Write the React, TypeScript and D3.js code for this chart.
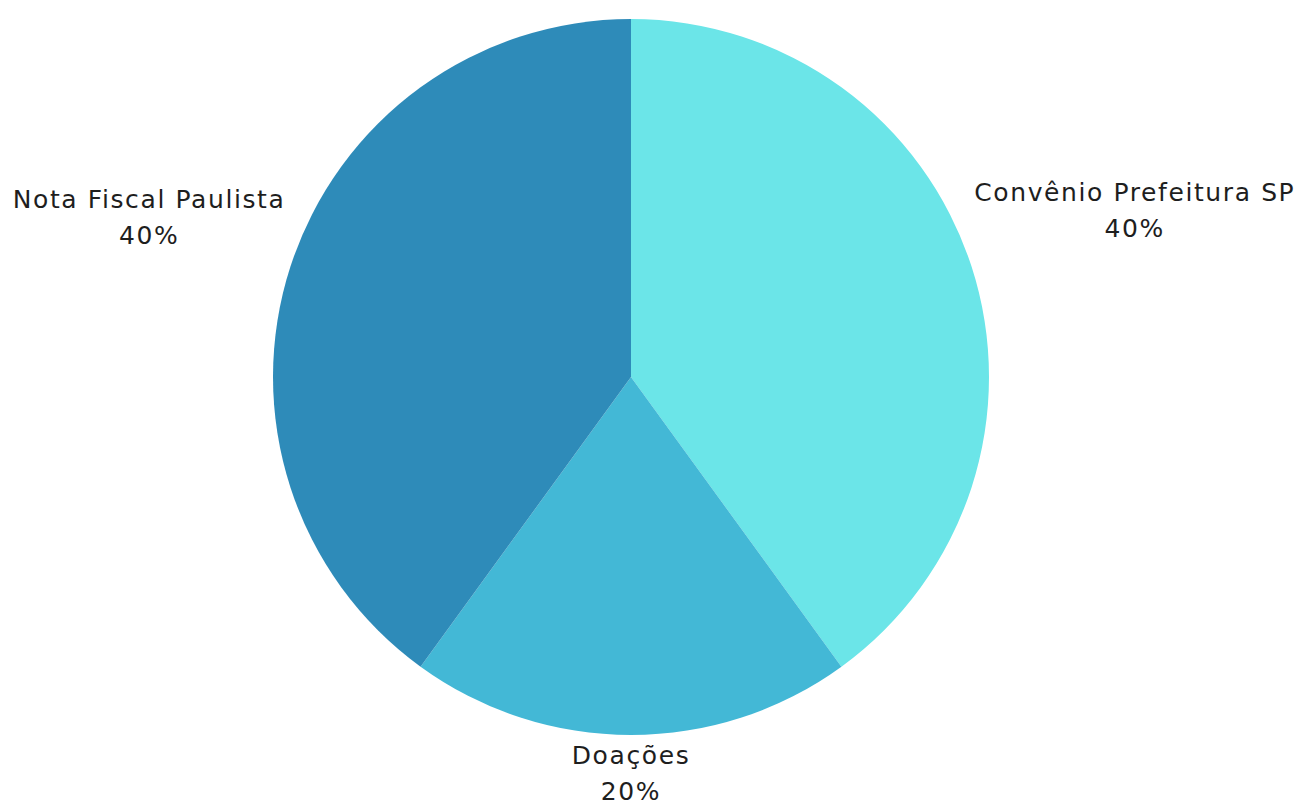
import React, { useEffect, useRef } from "react";
import * as d3 from "d3";

const labels = ["Convênio Prefeitura SP", "Doações", "Nota Fiscal Paulista"];
const values = [40, 20, 40];
const colors = ["#6be5e8", "#43b8d6", "#2e8bb9"];

const W = 1300;
const H = 804;

export default function App() {
  const ref = useRef<SVGSVGElement | null>(null);

  useEffect(() => {
    const svg = d3.select(ref.current);
    svg.selectAll("*").remove();
    const cx = 631;
    const cy = 377;
    const R = 358;
    const data = labels.map((l, i) => ({ label: l, value: values[i], color: colors[i] }));
    const pie = d3.pie<any>().value((d) => d.value).sort(null);
    const arcs = pie(data);
    const arc = d3.arc<any>().innerRadius(0).outerRadius(R);
    const g = svg.append("g").attr("transform", `translate(${cx},${cy})`);
    g.selectAll("path")
      .data(arcs)
      .enter()
      .append("path")
      .attr("d", arc as any)
      .attr("fill", (d: any) => d.data.color);

    const total = d3.sum(values);
    const lineH = 36;
    const fs = 25;
    arcs.forEach((a: any) => {
      const mid = (a.startAngle + a.endAngle) / 2;
      const sx = Math.sin(mid);
      const sy = -Math.cos(mid);
      const t = g
        .append("text")
        .attr("font-family", "'DejaVu Sans', sans-serif")
        .attr("font-size", fs)
        .attr("letter-spacing", 1.6)
        .attr("fill", "#1e1e1e")
        .attr("text-anchor", "middle");
      t.append("tspan").attr("x", 0).attr("dy", 0).text(a.data.label);
      t.append("tspan")
        .attr("x", 0)
        .attr("dy", lineH)
        .text(`${Math.round((a.data.value / total) * 100)}%`);
      const bb = (t.node() as SVGTextElement).getBBox();
      const w = bb.width / 2;
      const h = bb.height / 2;
      const r = R + 9 + w * Math.abs(sx) + h * Math.abs(sy);
      const px = sx * r;
      const py = sy * r;
      const ox = px - (bb.x + w);
      const oy = py - (bb.y + h) - 3;
      t.attr("transform", `translate(${ox},${oy})`);
    });
  }, []);

  return <svg ref={ref} width={W} height={H} style={{ display: "block", position: "absolute", left: 0, top: 0 }} />;
}
